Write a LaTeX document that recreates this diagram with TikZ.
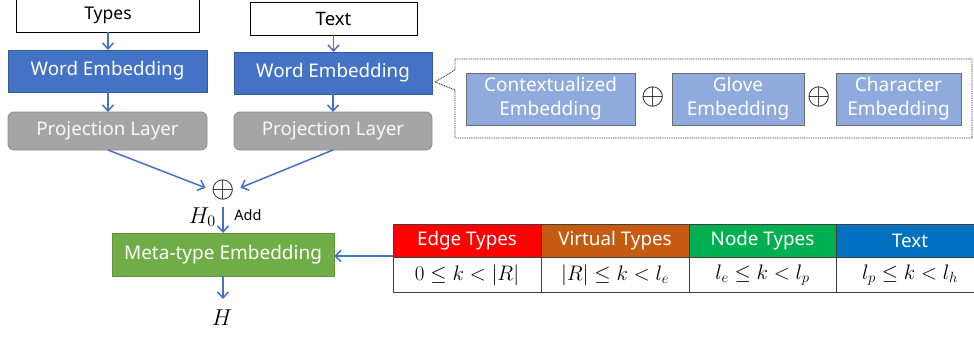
\RequirePackage{fix-cm}
\documentclass[tikz,border=0pt]{standalone}
\usepackage{fontspec}
\setmainfont{Noto Sans}
\usetikzlibrary{arrows.meta}
\definecolor{arrowblue}{HTML}{4472C4}
\definecolor{webblue}{HTML}{4472C4}
\definecolor{projgray}{HTML}{A5A5A5}
\definecolor{projborder}{HTML}{8C8C8C}
\definecolor{metagreen}{HTML}{70AD47}
\definecolor{lightblue}{HTML}{8FAADC}
\definecolor{hred}{HTML}{FF0000}
\definecolor{hbrown}{HTML}{C55A11}
\definecolor{hgreen}{HTML}{00B050}
\definecolor{hblue}{HTML}{0070C0}
\tikzset{
  lbl/.style={font=\fontsize{18.8}{20}\selectfont},
  inputbox/.style={draw=black, line width=0.9pt, fill=white},
  webox/.style={draw=webblue!80!black, line width=0.6pt, fill=webblue},
  projbox/.style={draw=projborder, line width=0.8pt, fill=projgray, rounded corners=6pt},
  metabox/.style={draw=metagreen!85!black, line width=0.6pt, fill=metagreen},
  embbox/.style={draw=gray!85!black, line width=1pt, fill=lightblue},
  flow/.style={draw=arrowblue, line width=1.5pt, -{Straight Barb[length=6pt,width=11pt,line width=1.5pt]}},
  opl/.style={font=\fontsize{30}{30}\selectfont, inner sep=0pt},
  cell/.style={draw=black!75, line width=0.8pt},
  mth/.style={font=\fontsize{21}{21}\selectfont},
}
\begin{document}
\begin{tikzpicture}[x=1pt,y=-1pt]
\useasboundingbox (0,0) rectangle (974,338);
% input boxes
\draw[inputbox] (16,-5) rectangle (199,32);
\node[font=\fontsize{17.5}{18}\selectfont] (types) at (108,15) {Types};
\coordinate (typesS) at (108,32);
\draw[inputbox] (250,2) rectangle (417,35);
\node[font=\fontsize{18.5}{18}\selectfont] (text) at (333.5,19) {Text};
\coordinate (textS) at (333.5,35);
% word embeddings
\draw[webox] (8,50) rectangle (207,92);
\node[lbl, text=white] (we1) at (107.5,71) {Word Embedding};
\draw[webox] (234,52) rectangle (432,94);
\node[lbl, text=white] (we2) at (333,73) {Word Embedding};
% projection
\draw[projbox] (8,112) rectangle (207,150);
\node[lbl, text=white!95!gray] (pr1) at (107.5,131) {Projection Layer};
\draw[projbox] (234,112) rectangle (432,150);
\node[lbl, text=white!95!gray] (pr2) at (333,131) {Projection Layer};
% oplus
\node[opl] (add) at (223,190) {$\oplus$};
% arrows top
\draw[flow] (typesS) -- (108,50);
\draw[flow] (textS) -- (333.5,52);
\draw[flow] (108,92) -- (108,112);
\draw[flow] (333,94) -- (333,112);
\draw[flow, shorten >=6pt] (108,150) -- (add.west);
\draw[flow, shorten >=6pt] (333,150) -- (add.east);
% meta
\draw[metabox] (112,233) rectangle (334,276);
\node[lbl, text=white, font=\fontsize{19}{20}\selectfont] (meta) at (223,255) {Meta-type Embedding};
\coordinate (metaN) at (223,233);
\coordinate (metaS) at (223,276);
\coordinate (metaE) at (334,256);
\draw[flow] (223,207) -- (metaN);
\node[font=\fontsize{23}{23}\selectfont, anchor=east, inner sep=0pt] (h0) at (216,217) {$H_0$};
\node[font=\fontsize{14.5}{15}\selectfont] (addlbl) at (248,215) {Add};
\node[font=\fontsize{23}{23}\selectfont] (h) at (222,318) {$H$};
\draw[flow] (metaS) -- (223,299);
% table
\fill[hred] (393,224) rectangle (541,257);
\fill[hbrown] (541,224) rectangle (689,257);
\fill[hgreen] (689,224) rectangle (836,257);
\fill[hblue] (836,224) rectangle (990,257);
\draw[cell] (393,224) rectangle (990,292);
\draw[cell] (393,257) -- (990,257);
\draw[cell] (541,224) -- (541,292);
\draw[cell] (689,224) -- (689,292);
\draw[cell] (836,224) -- (836,292);
\coordinate (tabW) at (393,256);
\node[lbl, text=white] (t1) at (467,241) {Edge Types};
\node[lbl, text=white] (t2) at (615,241) {Virtual Types};
\node[lbl, text=white] (t3) at (762.5,241) {Node Types};
\node[lbl, text=white] (t4) at (910,241) {Text};
\node[mth] (m1) at (467,275) {$0\le k<|R|$};
\node[mth] (m2) at (615,275) {$|R|\le k<l_e$};
\node[mth] (m3) at (762.5,275) {$l_e\le k<l_p$};
\node[mth] (m4) at (910,275) {$l_p\le k<l_h$};
\draw[flow] (tabW) -- (metaE);
% callout
\draw[black!80, line width=0.9pt, dash pattern=on 1pt off 0.8pt]
  (455,59) -- (972,59) -- (972,138) -- (455,138) -- (455,90) -- (435,82) -- (455,70) -- cycle;
\draw[embbox] (466,73) rectangle (635,125);
\node[text=white, align=center, font=\fontsize{19}{24}\selectfont] (ce) at (550.5,99) {Contextualized\\Embedding};
\node[opl] (o1) at (653,97) {$\oplus$};
\draw[embbox] (672,73) rectangle (804,125);
\node[text=white, align=center, font=\fontsize{19}{24}\selectfont] (ge) at (738,99) {Glove\\Embedding};
\node[opl] (o2) at (819,97) {$\oplus$};
\draw[embbox] (836,73) rectangle (961,125);
\node[text=white, align=center, font=\fontsize{19}{24}\selectfont] (che) at (898.5,99) {Character\\Embedding};
\end{tikzpicture}
\end{document}
